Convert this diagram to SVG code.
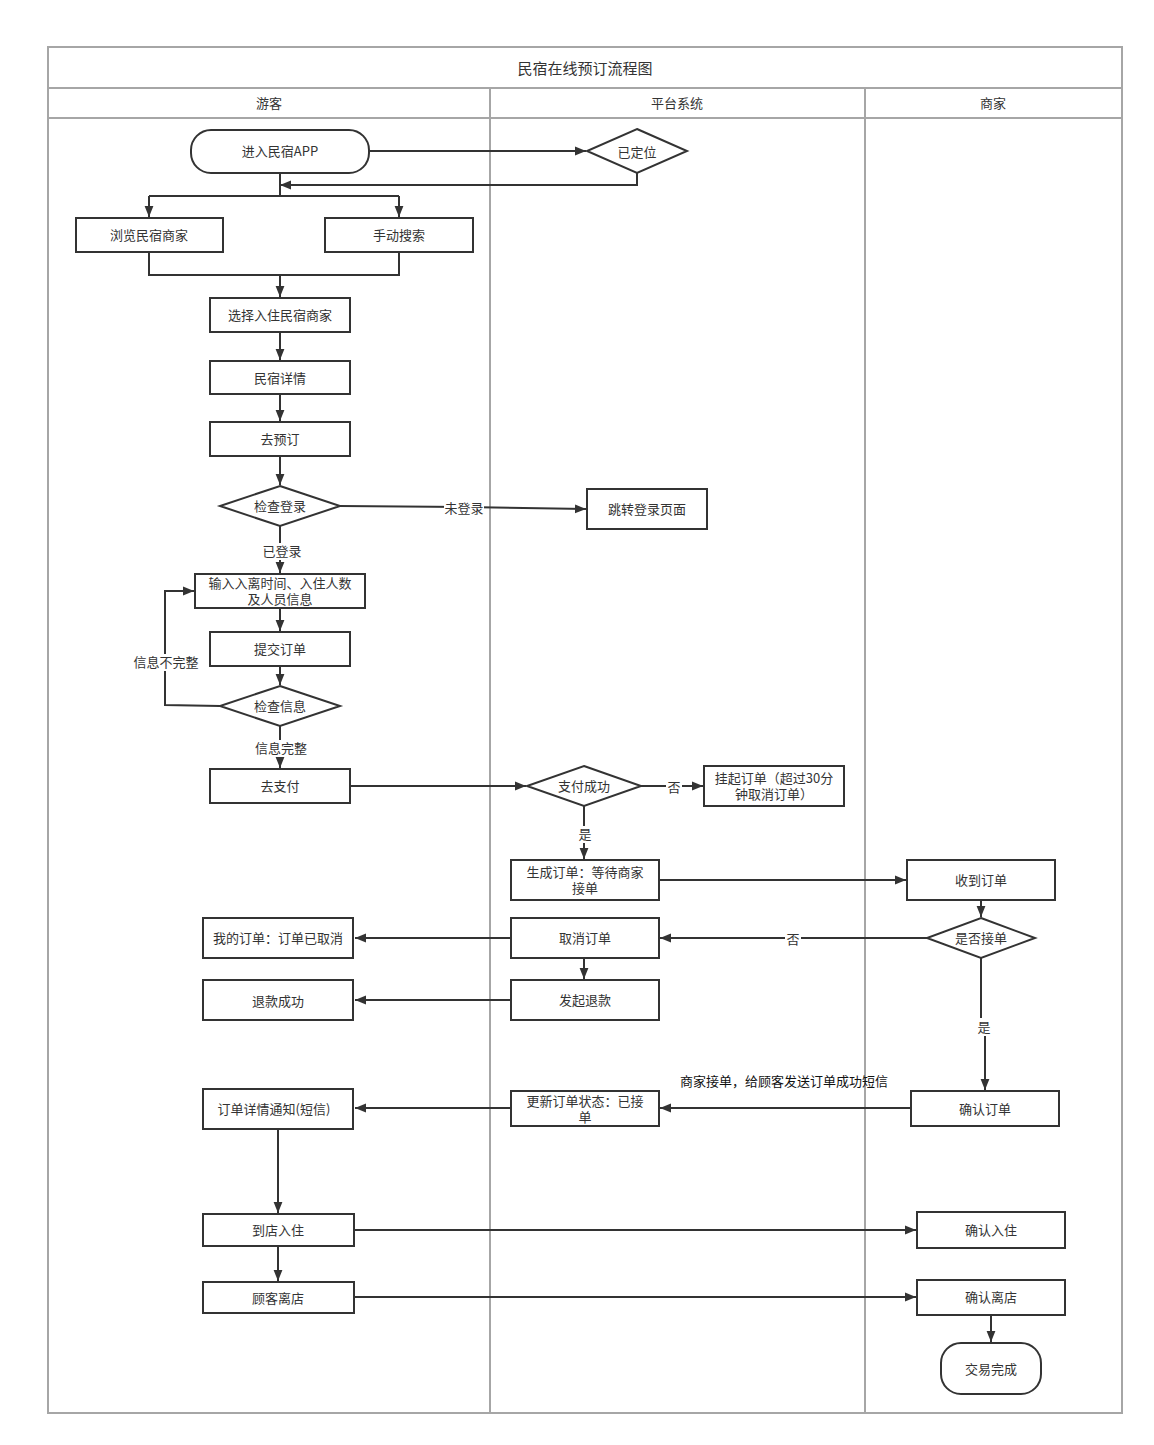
<svg xmlns="http://www.w3.org/2000/svg" width="1154" height="1445" viewBox="0 0 1154 1445">
<style>
text{font-family:"Noto Sans CJK SC","Noto Sans",sans-serif;font-size:13px;fill:#333;text-anchor:middle;dominant-baseline:central;transform:translateY(-1px)}
.n{fill:#fff;stroke:#333;stroke-width:2}
.lane{fill:none;stroke:#a6a6a6;stroke-width:2}
.c{fill:none;stroke:#333;stroke-width:2;marker-end:url(#a)}
.l{fill:none;stroke:#333;stroke-width:2}
.bg{fill:#fff}
</style>
<defs>
<marker id="a" viewBox="0 0 10 10" refX="10" refY="5" markerWidth="11" markerHeight="11" markerUnits="userSpaceOnUse" orient="auto"><path d="M0,1 L10,5 L0,9 z" fill="#333"/></marker>
</defs>
<rect width="1154" height="1445" fill="#fff"/>
<g id="pool">
<rect class="lane" x="48" y="47" width="1074" height="1366"/>
<line class="lane" x1="48" y1="88" x2="1122" y2="88"/>
<line class="lane" x1="48" y1="118" x2="1122" y2="118"/>
<line class="lane" x1="490" y1="88" x2="490" y2="1413"/>
<line class="lane" x1="865" y1="88" x2="865" y2="1413"/>
<text x="585" y="68" style="font-size:15px">民宿在线预订流程图</text>
<text x="269" y="103">游客</text>
<text x="677" y="103">平台系统</text>
<text x="993" y="103">商家</text>
</g>
<g id="connectors">
<path class="c" d="M369,151 L586,151"/>
<path class="c" d="M637,173 L637,185 L280,185"/>
<path class="l" d="M280,173 L280,196 M149,196 L399,196"/>
<path class="c" d="M149,196 L149,217"/>
<path class="c" d="M399,196 L399,217"/>
<path class="l" d="M149,252 L149,275 L399,275 L399,252"/>
<path class="c" d="M280,275 L280,297"/>
<path class="c" d="M280,332 L280,360"/>
<path class="c" d="M280,394 L280,421"/>
<path class="c" d="M280,456 L280,485"/>
<path class="c" d="M340,506 L464,507 L586,509"/>
<rect class="bg" x="444" y="500" width="40" height="17"/>
<text x="464" y="508">未登录</text>
<path class="c" d="M280,526 L280,573"/>
<rect class="bg" x="260" y="543" width="44" height="17"/>
<text x="282" y="551">已登录</text>
<path class="c" d="M280,608 L280,631"/>
<path class="c" d="M280,666 L280,685"/>
<path class="c" d="M220,706 L165,705 L165,591 L194,591"/>
<rect class="bg" x="133" y="654" width="66" height="17"/>
<text x="166" y="662">信息不完整</text>
<path class="c" d="M280,726 L280,768"/>
<rect class="bg" x="253" y="740" width="56" height="17"/>
<text x="281" y="748">信息完整</text>
<path class="c" d="M350,786 L526,786"/>
<path class="c" d="M641,786 L703,786"/>
<rect class="bg" x="666" y="778" width="16" height="17"/>
<text x="674" y="787">否</text>
<path class="c" d="M584,806 L584,859"/>
<rect class="bg" x="577" y="826" width="16" height="17"/>
<text x="585" y="834">是</text>
<path class="c" d="M659,880 L906,880"/>
<path class="c" d="M981,900 L981,917"/>
<path class="c" d="M927,938 L660,938"/>
<rect class="bg" x="785" y="930" width="16" height="17"/>
<text x="793" y="939">否</text>
<path class="c" d="M511,938 L355,938"/>
<path class="c" d="M584,958 L584,979"/>
<path class="c" d="M511,1000 L355,1000"/>
<path class="c" d="M981,958 L981,1027 L985,1027 L985,1090"/>
<rect class="bg" x="976" y="1018" width="16" height="18"/>
<text x="984" y="1027">是</text>
<path class="c" d="M911,1108 L660,1108"/>
<text x="784" y="1081" style="fill:#111">商家接单，给顾客发送订单成功短信</text>
<path class="c" d="M511,1108 L355,1108"/>
<path class="c" d="M278,1129 L278,1213"/>
<path class="c" d="M354,1230 L916,1230"/>
<path class="c" d="M278,1246 L278,1281"/>
<path class="c" d="M354,1297 L916,1297"/>
<path class="c" d="M991,1315 L991,1342"/>
</g>
<g id="n1"><rect class="n" x="191" y="130" width="178" height="43" rx="20"/><text x="280" y="151">进入民宿APP</text></g>
<g id="n2"><path class="n" d="M637,129 L687,151 L637,173 L587,151 Z"/><text x="637" y="152">已定位</text></g>
<g id="n3"><rect class="n" x="76" y="218" width="147" height="34"/><text x="149" y="235">浏览民宿商家</text></g>
<g id="n4"><rect class="n" x="325" y="218" width="148" height="34"/><text x="399" y="235">手动搜索</text></g>
<g id="n5"><rect class="n" x="210" y="298" width="140" height="34"/><text x="280" y="315">选择入住民宿商家</text></g>
<g id="n6"><rect class="n" x="210" y="361" width="140" height="33"/><text x="280" y="378">民宿详情</text></g>
<g id="n7"><rect class="n" x="210" y="422" width="140" height="34"/><text x="280" y="439">去预订</text></g>
<g id="n8"><path class="n" d="M280,486 L340,506 L280,526 L220,506 Z"/><text x="280" y="506">检查登录</text></g>
<g id="n9"><rect class="n" x="587" y="489" width="120" height="40"/><text x="647" y="509">跳转登录页面</text></g>
<g id="n10"><rect class="n" x="195" y="574" width="170" height="34"/><text x="280" y="583">输入入离时间、入住人数<tspan x="280" dy="16">及人员信息</tspan></text></g>
<g id="n11"><rect class="n" x="210" y="632" width="140" height="34"/><text x="280" y="649">提交订单</text></g>
<g id="n12"><path class="n" d="M280,686 L340,706 L280,726 L220,706 Z"/><text x="280" y="706">检查信息</text></g>
<g id="n13"><rect class="n" x="210" y="769" width="140" height="34"/><text x="280" y="786">去支付</text></g>
<g id="n14"><path class="n" d="M584,766 L641,786 L584,806 L527,786 Z"/><text x="584" y="786">支付成功</text></g>
<g id="n15"><rect class="n" x="704" y="766" width="140" height="40"/><text x="774" y="778">挂起订单（超过30分<tspan x="774" dy="16">钟取消订单）</tspan></text></g>
<g id="n16"><rect class="n" x="511" y="860" width="148" height="40"/><text x="585" y="872">生成订单：等待商家<tspan x="585" dy="16">接单</tspan></text></g>
<g id="n17"><rect class="n" x="907" y="860" width="148" height="40"/><text x="981" y="880">收到订单</text></g>
<g id="n18"><path class="n" d="M981,918 L1035,938 L981,958 L927,938 Z"/><text x="981" y="938">是否接单</text></g>
<g id="n19"><rect class="n" x="511" y="918" width="148" height="40"/><text x="585" y="938">取消订单</text></g>
<g id="n20"><rect class="n" x="203" y="918" width="150" height="40"/><text x="278" y="938">我的订单：订单已取消</text></g>
<g id="n21"><rect class="n" x="511" y="980" width="148" height="40"/><text x="585" y="1000">发起退款</text></g>
<g id="n22"><rect class="n" x="203" y="980" width="150" height="40"/><text x="278" y="1001">退款成功</text></g>
<g id="n23"><rect class="n" x="911" y="1091" width="148" height="35"/><text x="985" y="1109">确认订单</text></g>
<g id="n24"><rect class="n" x="511" y="1091" width="148" height="35"/><text x="585" y="1101">更新订单状态：已接<tspan x="585" dy="16">单</tspan></text></g>
<g id="n25"><rect class="n" x="203" y="1089" width="150" height="40"/><text x="274" y="1109">订单详情通知(短信)</text></g>
<g id="n26"><rect class="n" x="203" y="1214" width="151" height="32"/><text x="278" y="1230">到店入住</text></g>
<g id="n27"><rect class="n" x="917" y="1212" width="148" height="36"/><text x="991" y="1230">确认入住</text></g>
<g id="n28"><rect class="n" x="203" y="1282" width="151" height="31"/><text x="278" y="1298">顾客离店</text></g>
<g id="n29"><rect class="n" x="917" y="1280" width="148" height="35"/><text x="991" y="1297">确认离店</text></g>
<g id="n30"><rect class="n" x="941" y="1343" width="100" height="51" rx="20"/><text x="991" y="1369">交易完成</text></g>
</svg>
